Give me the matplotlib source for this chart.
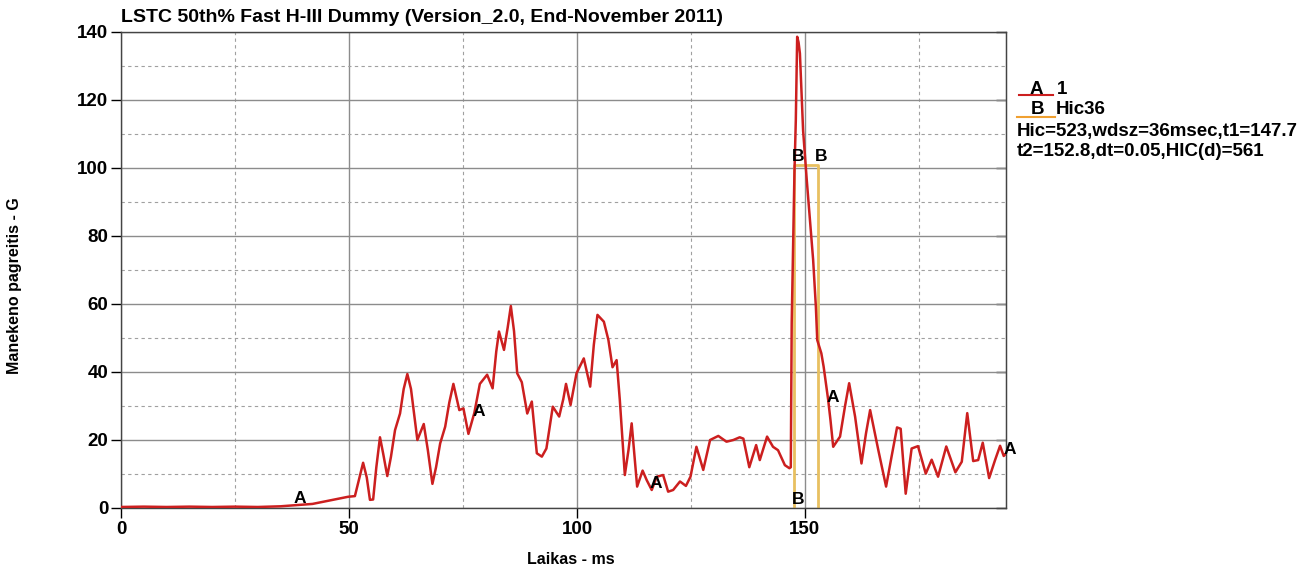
import numpy as np
import matplotlib.pyplot as plt
from matplotlib.lines import Line2D
from matplotlib.ticker import MultipleLocator

plt.rcParams['font.family'] = ['Liberation Sans', 'DejaVu Sans']
plt.rcParams['font.weight'] = 'bold'

# curve 1: time in ms, acceleration in G
t = [0, 5, 10, 15, 20, 25, 30, 35, 38, 42, 46.5, 49.8, 51.3, 52.3, 53.1, 53.9, 54.6, 55.3,
     56.0, 56.8, 57.5, 58.4, 59.2, 60.1, 61.2, 62.0, 62.8, 63.6, 65.0, 66.4, 67.3, 68.3, 69.1,
     70.0, 71.1, 72.0, 72.9, 73.5, 74.2, 75.1, 76.2, 77.5, 78.7, 80.3, 81.5, 82.3, 82.9, 84.0,
     84.8, 85.5, 86.2, 86.9, 87.9, 89.1, 90.1, 91.2, 92.3, 93.3, 94.7, 96.1, 97.0, 97.6, 98.6,
     99.9, 101.5, 102.9, 103.7, 104.5, 105.9, 106.9, 107.8, 108.7, 109.4, 110.5, 111.3, 112.0,
     113.2, 114.4, 115.3, 116.4, 117.5, 118.9, 120.0, 121.1, 122.6, 123.9, 124.9, 126.2, 127.7,
     129.2, 131.0, 132.8, 134.3, 135.7, 136.5, 137.8, 139.3, 140.1, 141.7, 143.0, 144.1, 145.6,
     146.6, 146.9, 147.1, 147.4, 147.7, 148.0, 148.3, 148.6, 148.9, 149.3, 149.6, 150.4, 151.1,
     151.8, 152.4, 152.7, 153.6, 154.1, 155.1, 155.6, 156.2, 157.7, 158.8, 159.7, 161.0, 162.4,
     163.4, 164.3, 166.1, 167.8, 169.0, 170.2, 171.0, 172.1, 173.4, 174.8, 176.5, 177.8, 179.2,
     181.0, 183.0, 184.4, 185.6, 186.9, 188.0, 189.0, 190.4, 191.7, 192.8, 193.6, 194.1]
g = [0.3, 0.4, 0.3, 0.4, 0.3, 0.4, 0.3, 0.5, 0.8, 1.2, 2.4, 3.3, 3.5, 9.0, 13.3, 9.0, 2.4, 2.5,
     12.0, 20.8, 16.0, 9.4, 15.0, 22.9, 27.8, 35.0, 39.4, 35.0, 20.0, 24.7, 17.0, 7.1, 12.0,
     19.0, 23.9, 31.0, 36.5, 33.0, 28.8, 29.3, 21.8, 28.0, 36.5, 39.2, 35.2, 46.0, 51.9, 46.5,
     53.0, 59.4, 52.0, 39.6, 37.0, 27.8, 31.3, 16.1, 15.1, 17.5, 29.8, 26.9, 32.0, 36.5, 30.3,
     39.6, 44.0, 35.7, 48.0, 56.8, 54.8, 49.4, 41.4, 43.5, 31.8, 9.7, 17.0, 24.9,
     6.3, 11.0, 8.2, 5.3, 9.2, 9.7, 4.8, 5.3, 7.8, 6.5, 9.2, 18.0, 11.2,
     20.0, 21.2, 19.5, 20.0, 20.8, 20.4, 12.0, 18.5, 14.1, 21.0, 18.0, 17.0, 12.6,
     11.7, 12.0, 54.4, 76.9, 98.5, 114.0, 138.6, 137.0, 133.7, 121.0, 111.0, 96.5, 84.7,
     73.0, 59.2, 49.4, 45.5, 41.6, 31.8, 25.9, 18.0, 21.0, 30.0, 36.7, 26.9, 13.1,
     22.0, 28.8, 17.0, 6.3, 15.1, 23.7, 23.3, 4.2, 17.5, 18.2, 10.1, 14.2, 9.2,
     18.1, 10.5, 13.6, 27.9, 13.8, 14.1, 19.2, 8.8, 14.1, 18.3, 15.3, 16.0]

# curve 2: HIC36 window
hic_t1 = 147.7
hic_t2 = 152.8
hic_avg = 101

fig = plt.figure(figsize=(13.15, 5.71), dpi=100)
ax = fig.add_axes([121 / 1315, 63 / 571, 885 / 1315, 476 / 571])

ax.plot(t, g, color='#cc1f1f', lw=1.8, zorder=3)
ax.plot([hic_t1, hic_t1, hic_t2, hic_t2], [0, hic_avg, hic_avg, 0],
        color='#e8c060', lw=2, zorder=2)

# curve labels
for x, y in [(39.3, 2.8), (78.5, 28.4), (117.3, 7.3), (156.1, 32.4), (195.0, 17.3)]:
    ax.text(x, y, 'A', ha='center', va='center', fontsize=12.5, clip_on=False, zorder=4)
for x, y in [(148.5, 103.5), (153.5, 103.5), (148.5, 2.6)]:
    ax.text(x, y, 'B', ha='center', va='center', fontsize=12.5, zorder=4)

ax.set_xlim(0, 194.1)
ax.set_ylim(0, 140)
ax.xaxis.set_major_locator(MultipleLocator(50))
ax.xaxis.set_minor_locator(MultipleLocator(25))
ax.yaxis.set_major_locator(MultipleLocator(20))
ax.yaxis.set_minor_locator(MultipleLocator(10))
ax.grid(which='major', color='#8c8c8c', lw=1, ls='-')
ax.grid(which='minor', color='#a0a0a0', lw=0.8, ls=(0, (3, 3)))
ax.set_axisbelow(True)
ax.tick_params(which='major', direction='out', length=7, width=1, labelsize=13.5, pad=2)
ax.tick_params(which='minor', length=0)
for lbl in ax.get_xticklabels() + ax.get_yticklabels():
    lbl.set_fontweight('bold')
for s in ax.spines.values():
    s.set_color('#444444')
    s.set_linewidth(1)

# short inward ticks on the right side
rax = ax.secondary_yaxis('right')
rax.yaxis.set_major_locator(MultipleLocator(20))
rax.tick_params(direction='in', length=7, width=1, labelright=False)
rax.spines['right'].set_color('#444444')

fig.text(121 / 1315, 1 - 18 / 571, 'LSTC 50th% Fast H-III Dummy (Version_2.0, End-November 2011)',
         ha='left', va='center', fontsize=14, fontweight='bold')
fig.text(15 / 1315, 0.5, 'Manekeno pagreitis - G', rotation=90, ha='center', va='center',
         fontsize=11.5, fontweight='bold')
fig.text(571 / 1315, 1 - 559 / 571, 'Laikas - ms', ha='center', va='center',
         fontsize=11.5, fontweight='bold')

# legend
fig.add_artist(Line2D([1019 / 1315, 1053 / 1315], [1 - 95 / 571] * 2, color='#cc1f1f', lw=1.5))
fig.add_artist(Line2D([1017 / 1315, 1055 / 1315], [1 - 117 / 571] * 2, color='#f0a030', lw=1.5))
fig.text(1036 / 1315, 1 - 89 / 571, 'A', ha='center', va='center', fontsize=13.5)
fig.text(1057 / 1315, 1 - 89 / 571, '1', ha='left', va='center', fontsize=13.5)
fig.text(1037 / 1315, 1 - 110 / 571, 'B', ha='center', va='center', fontsize=13.5)
fig.text(1056 / 1315, 1 - 110 / 571, 'Hic36', ha='left', va='center', fontsize=13.5)
fig.text(1017 / 1315, 1 - 131 / 571, 'Hic=523,wdsz=36msec,t1=147.7', ha='left', va='center',
         fontsize=13.5)
fig.text(1017 / 1315, 1 - 151 / 571, 't2=152.8,dt=0.05,HIC(d)=561', ha='left', va='center',
         fontsize=13.5)

fig.savefig('out.png', dpi=100)
